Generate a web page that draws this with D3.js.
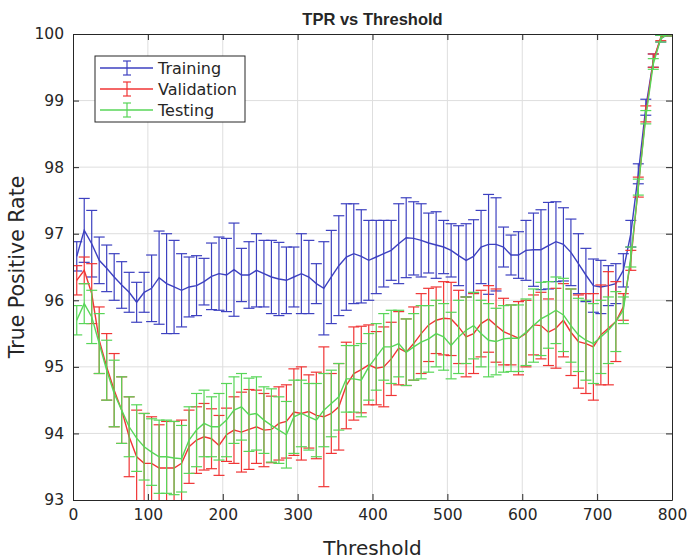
<!DOCTYPE html>
<html>
<head>
<meta charset="utf-8">
<script src="https://cdn.jsdelivr.net/npm/d3@7"></script>
<style>
    body { margin: 0; background: #fff; }
    text { font-family: "DejaVu Sans", Verdana, sans-serif; fill: #262626; }
</style>
</head>
<body>
<div id="chart"></div>
<script>
// thresholds every 10, starting at 5
const THRESHOLDS = d3.range(5, 800, 10);

const TRAIN_MEAN = [
    96.66, 97.05, 96.85, 96.6, 96.48, 96.35, 96.23, 96.12, 95.97, 96.12,
    96.18, 96.34, 96.25, 96.2, 96.15, 96.2, 96.22, 96.28, 96.36, 96.4,
    96.38, 96.46, 96.38, 96.38, 96.45, 96.4, 96.35, 96.32, 96.3, 96.35,
    96.4, 96.35, 96.25, 96.18, 96.35, 96.52, 96.65, 96.7, 96.66, 96.6,
    96.65, 96.7, 96.75, 96.85, 96.94, 96.93, 96.9, 96.86, 96.83, 96.8,
    96.75, 96.67, 96.6, 96.66, 96.8, 96.84, 96.84, 96.8, 96.68, 96.68,
    96.75, 96.76, 96.76, 96.82, 96.88, 96.84, 96.72, 96.55, 96.38, 96.22,
    96.2, 96.22, 96.25, 96.45, 97.0, 97.9, 98.9, 99.6, 99.93, 100
];
const TRAIN_ERR = [
    0.22, 0.48, 0.5, 0.35, 0.35, 0.35, 0.35, 0.3, 0.3, 0.3,
    0.5, 0.7, 0.75, 0.7, 0.55, 0.45, 0.45, 0.35, 0.5, 0.55,
    0.55, 0.7, 0.4, 0.5, 0.55, 0.5, 0.55, 0.55, 0.5, 0.45,
    0.6, 0.55, 0.3, 0.7, 0.7, 0.75, 0.8, 0.75, 0.7, 0.6,
    0.55, 0.5, 0.45, 0.6, 0.6, 0.55, 0.55, 0.45, 0.5, 0.4,
    0.4, 0.45, 0.55, 0.55, 0.55, 0.75, 0.7, 0.3, 0.3, 0.35,
    0.45, 0.55, 0.6, 0.65, 0.6, 0.55, 0.5, 0.45, 0.4, 0.4,
    0.4, 0.3, 0.3, 0.25, 0.2, 0.15, 0.12, 0.1, 0.05, 0.03
];

const VALID_MEAN = [
    96.3, 96.45, 96.1, 95.4, 95.0, 94.65, 94.35, 93.95, 93.65, 93.55,
    93.55, 93.48, 93.48, 93.48, 93.55, 93.8, 93.9, 93.95, 93.92, 93.82,
    93.98, 94.05, 94.02, 94.06, 94.1, 94.05, 94.06, 94.15, 94.18, 94.32,
    94.3, 94.33, 94.27, 94.25, 94.3, 94.4, 94.72, 94.9, 94.96, 95.03,
    94.98, 95.0, 95.12, 95.28, 95.22, 95.35, 95.5, 95.63, 95.7, 95.73,
    95.72, 95.6, 95.45, 95.5, 95.65, 95.72, 95.62, 95.53, 95.48, 95.43,
    95.5, 95.63, 95.62, 95.52, 95.58, 95.7, 95.52, 95.38, 95.35, 95.3,
    95.48, 95.58, 95.68, 95.9, 96.6, 97.7, 98.8, 99.6, 99.95, 100
];
const VALID_ERR = [
    0.22, 0.2, 0.45, 0.5, 0.5, 0.55, 0.5, 0.6, 0.7, 0.75,
    0.7, 0.65, 0.7, 0.7, 0.65, 0.55, 0.5, 0.5, 0.45, 0.45,
    0.4, 0.5, 0.6, 0.6, 0.55, 0.55, 0.5, 0.55, 0.55, 0.65,
    0.7, 0.55, 0.65, 1.05, 0.6, 0.65, 0.65, 0.7, 0.65, 0.6,
    0.55, 0.6, 0.55, 0.55, 0.5, 0.55, 0.6, 0.55, 0.5, 0.55,
    0.55, 0.55, 0.6, 0.6, 0.5, 0.5, 0.55, 0.5, 0.45, 0.55,
    0.5, 0.45, 0.5, 0.5, 0.6, 0.55, 0.65, 0.7, 0.75, 0.8,
    0.75, 0.85, 0.6, 0.2, 0.15, 0.15, 0.12, 0.1, 0.05, 0.03
];

const TEST_MEAN = [
    95.7, 95.95, 95.75, 95.35, 94.95, 94.6, 94.35, 94.1, 93.93, 93.8,
    93.72, 93.65, 93.65, 93.63, 93.62, 93.9, 94.05, 94.15, 94.1, 94.1,
    94.2, 94.35, 94.4, 94.28, 94.3, 94.2, 94.12, 94.05, 93.98, 94.25,
    94.3, 94.25, 94.2, 94.35, 94.45, 94.55, 94.82, 94.82, 94.8, 95.0,
    95.15, 95.3, 95.3, 95.35, 95.22, 95.3, 95.37, 95.42, 95.5, 95.45,
    95.32, 95.45, 95.55, 95.62, 95.5, 95.4, 95.38, 95.42, 95.43, 95.43,
    95.52, 95.62, 95.72, 95.78, 95.85, 95.78, 95.62, 95.48, 95.4, 95.35,
    95.45, 95.55, 95.68, 95.85, 96.65, 97.7, 98.75, 99.55, 99.93, 100
];
const TEST_ERR = [
    0.22, 0.3, 0.4, 0.45, 0.45, 0.5, 0.5, 0.45, 0.5, 0.5,
    0.5, 0.55, 0.55, 0.55, 0.5, 0.5, 0.55, 0.5, 0.45, 0.5,
    0.55, 0.5, 0.5, 0.55, 0.55, 0.5, 0.55, 0.5, 0.5, 0.55,
    0.5, 0.5, 0.55, 0.55, 0.5, 0.5, 0.5, 0.5, 0.55, 0.5,
    0.5, 0.5, 0.55, 0.5, 0.5, 0.5, 0.55, 0.5, 0.5, 0.5,
    0.5, 0.55, 0.5, 0.5, 0.5, 0.55, 0.5, 0.5, 0.5, 0.5,
    0.5, 0.55, 0.55, 0.5, 0.5, 0.55, 0.55, 0.55, 0.6, 0.6,
    0.55, 0.5, 0.45, 0.2, 0.15, 0.12, 0.1, 0.08, 0.05, 0.03
];

const SERIES = [
    { name: 'Training',   color: '#3d41c0', mean: TRAIN_MEAN, err: TRAIN_ERR },
    { name: 'Validation', color: '#f03535', mean: VALID_MEAN, err: VALID_ERR },
    { name: 'Testing',    color: '#58d658', mean: TEST_MEAN,  err: TEST_ERR }
];

const X_TICKS = [0, 100, 200, 300, 400, 500, 600, 700, 800];
const Y_TICKS = [93, 94, 95, 96, 97, 98, 99, 100];

const WIDTH = 687;
const HEIGHT = 560;
const margin = { top: 34, right: 15, bottom: 60, left: 73 };
const w = WIDTH - margin.left - margin.right;
const h = HEIGHT - margin.top - margin.bottom;
const AXIS_COLOR = '#262626';
const CAP = 5.5;

const svg = d3.select('#chart').append('svg')
    .attr('width', WIDTH)
    .attr('height', HEIGHT);

const x = d3.scaleLinear().domain([0, 800]).range([0, w]);
const y = d3.scaleLinear().domain([93, 100]).range([h, 0]);

const g = svg.append('g')
    .attr('transform', `translate(${margin.left},${margin.top})`);

svg.append('defs').append('clipPath')
    .attr('id', 'plot-clip')
    .append('rect')
    .attr('width', w)
    .attr('height', h);

// grid lines
g.append('g').selectAll('line.vgrid')
    .data(X_TICKS.slice(1, -1))
    .enter().append('line')
    .attr('x1', d => x(d)).attr('x2', d => x(d))
    .attr('y1', 0).attr('y2', h)
    .attr('stroke', '#dedede')
    .attr('stroke-width', 1);

g.append('g').selectAll('line.hgrid')
    .data(Y_TICKS.slice(1, -1))
    .enter().append('line')
    .attr('x1', 0).attr('x2', w)
    .attr('y1', d => y(d)).attr('y2', d => y(d))
    .attr('stroke', '#dedede')
    .attr('stroke-width', 1);

// series: error bars + mean line
const plot = g.append('g').attr('clip-path', 'url(#plot-clip)');

const line = d3.line()
    .x((d, i) => x(THRESHOLDS[i]))
    .y(d => y(d));

SERIES.forEach((s) => {
    let pts = THRESHOLDS.map((t, i) => ({ t: t, m: s.mean[i], e: s.err[i] }));
    let sg = plot.append('g').attr('class', 'series')
        .attr('stroke', s.color)
        .attr('fill', 'none')
        .attr('stroke-width', 1.2);

    let bars = sg.selectAll('g.ebar')
        .data(pts)
        .enter().append('g')
        .attr('class', 'ebar');

    bars.append('line')
        .attr('x1', d => x(d.t)).attr('x2', d => x(d.t))
        .attr('y1', d => y(d.m - d.e)).attr('y2', d => y(d.m + d.e));
    bars.append('line')
        .attr('x1', d => x(d.t) - CAP).attr('x2', d => x(d.t) + CAP)
        .attr('y1', d => y(d.m + d.e)).attr('y2', d => y(d.m + d.e));
    bars.append('line')
        .attr('x1', d => x(d.t) - CAP).attr('x2', d => x(d.t) + CAP)
        .attr('y1', d => y(d.m - d.e)).attr('y2', d => y(d.m - d.e));

    sg.append('path')
        .datum(s.mean)
        .attr('d', line)
        .attr('stroke-width', 1.4);
});

// axes (box with inward ticks on all sides)
const xAxisB = d3.axisBottom(x).tickValues(X_TICKS).tickSizeInner(-6).tickSizeOuter(0).tickPadding(9);
const xAxisT = d3.axisTop(x).tickValues(X_TICKS).tickSizeInner(-6).tickSizeOuter(0).tickFormat('');
const yAxisL = d3.axisLeft(y).tickValues(Y_TICKS).tickSizeInner(-6).tickSizeOuter(0).tickPadding(9)
    .tickFormat(d3.format('d'));
const yAxisR = d3.axisRight(y).tickValues(Y_TICKS).tickSizeInner(-6).tickSizeOuter(0).tickFormat('');

[
    g.append('g').attr('transform', `translate(0,${h})`).call(xAxisB),
    g.append('g').call(xAxisT),
    g.append('g').call(yAxisL),
    g.append('g').attr('transform', `translate(${w},0)`).call(yAxisR)
].forEach((ax) => {
    ax.select('.domain').attr('stroke', AXIS_COLOR).attr('stroke-width', 1);
    ax.selectAll('.tick line').attr('stroke', AXIS_COLOR);
    ax.selectAll('.tick text')
        .attr('fill', AXIS_COLOR)
        .style('font-size', '15.5px')
        .style('font-family', '"DejaVu Sans", Verdana, sans-serif');
});

// title and labels
svg.append('text')
    .attr('x', margin.left + w / 2)
    .attr('y', 25)
    .attr('text-anchor', 'middle')
    .style('font-size', '16.5px')
    .style('font-weight', 'bold')
    .style('font-family', '"Liberation Sans", Arial, sans-serif')
    .text('TPR vs Threshold');

svg.append('text')
    .attr('x', margin.left + w / 2)
    .attr('y', 555)
    .attr('text-anchor', 'middle')
    .style('font-size', '20px')
    .text('Threshold');

svg.append('text')
    .attr('transform', `translate(24,${margin.top + h / 2}) rotate(-90)`)
    .attr('text-anchor', 'middle')
    .style('font-size', '20.5px')
    .text('True Positive Rate');

// legend
const legend = svg.append('g').attr('transform', 'translate(95,56)');
legend.append('rect')
    .attr('width', 150)
    .attr('height', 66)
    .attr('fill', '#fff')
    .attr('stroke', AXIS_COLOR)
    .attr('stroke-width', 1);

let items = legend.selectAll('g.item')
    .data(SERIES)
    .enter().append('g')
    .attr('class', 'item')
    .attr('transform', (d, i) => `translate(0,${12 + i * 21})`);

items.append('line')
    .attr('x1', 5).attr('x2', 58)
    .attr('stroke', d => d.color)
    .attr('stroke-width', 1.4);
items.append('line')
    .attr('x1', 32).attr('x2', 32).attr('y1', -7).attr('y2', 7)
    .attr('stroke', d => d.color).attr('stroke-width', 1.2);
items.append('line')
    .attr('x1', 28).attr('x2', 36).attr('y1', -7).attr('y2', -7)
    .attr('stroke', d => d.color).attr('stroke-width', 1.2);
items.append('line')
    .attr('x1', 28).attr('x2', 36).attr('y1', 7).attr('y2', 7)
    .attr('stroke', d => d.color).attr('stroke-width', 1.2);
items.append('text')
    .attr('x', 63)
    .attr('y', 6)
    .style('font-size', '16px')
    .text(d => d.name);
</script>
</body>
</html>
